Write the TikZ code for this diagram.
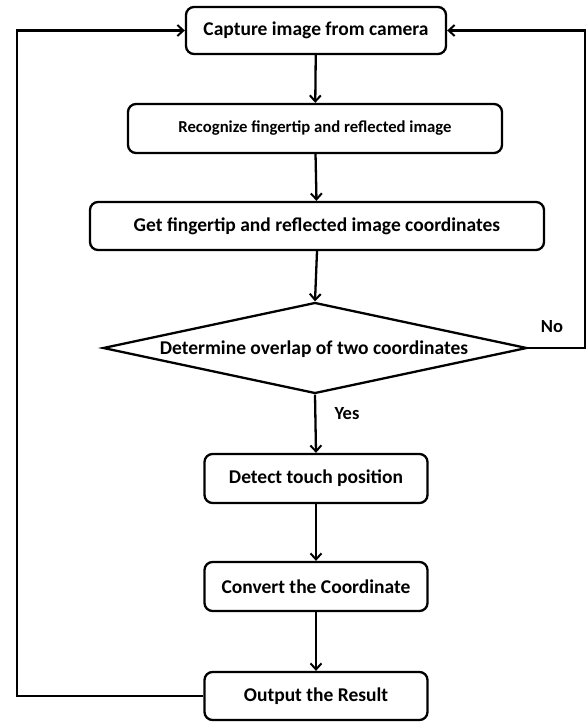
\documentclass[tikz,border=0pt]{standalone}
\usepackage{fontspec}
\setmainfont{Carlito}
\usetikzlibrary{arrows.meta,shapes.geometric}
\begin{document}
\begin{tikzpicture}[x=1pt,y=-1pt,
  line width=2.3pt,
  box/.style={draw, rounded corners=8pt, fill=white, inner sep=0pt, font=\bfseries\fontsize{19.5}{23}\selectfont},
  conn/.style={-{Straight Barb[length=6pt,width=11pt,line width=2pt]}},
  lbl/.style={font=\bfseries\fontsize{18.5}{22}\selectfont, inner sep=0pt}
]
\useasboundingbox (0,0) rectangle (587,722);
\node[box, minimum width=260pt, minimum height=47pt] (b1) at (316,30.5) {Capture image from camera};
\node[box, minimum width=374pt, minimum height=49pt, font=\bfseries\fontsize{16.7}{20}\selectfont] (b2) at (315,128.5) {Recognize fingertip and reflected image};
\node[box, minimum width=454pt, minimum height=48pt] (b3) at (317,226) {Get fingertip and reflected image coordinates};
\node[diamond, draw, minimum width=424pt, minimum height=91pt, inner sep=0pt] (d) at (315,348) {};
\node[lbl, font=\bfseries\fontsize{19.5}{23}\selectfont] (dt) at (314,349) {Determine overlap of two coordinates};
\node[box, minimum width=223pt, minimum height=49pt] (b4) at (316,478.5) {Detect touch position};
\node[box, minimum width=223pt, minimum height=49pt] (b5) at (316,586.5) {Convert the Coordinate};
\node[box, minimum width=223pt, minimum height=48pt] (b6) at (316,696) {Output the Result};
\node[lbl] (no) at (552,327) {No};
\node[lbl] (yes) at (347,414) {Yes};
\coordinate (lb) at (17,696);
\coordinate (lt) at (17,30.5);
\coordinate (rm) at (585,348);
\coordinate (rt) at (585,30.5);
\draw[conn] (b1) -- (b2);
\draw[conn] (b2) -- (b3);
\draw[conn] (b3.south) -- (d.north);
\draw[conn] (d.south) -- (b4.north);
\draw[conn] (b4) -- (b5);
\draw[conn] (b5) -- (b6);
\draw[conn] (b6.west) -- (lb) -- (lt) -- (b1.west);
\draw[conn] (d.east) -- (rm) -- (rt) -- (b1.east);
\end{tikzpicture}
\end{document}
